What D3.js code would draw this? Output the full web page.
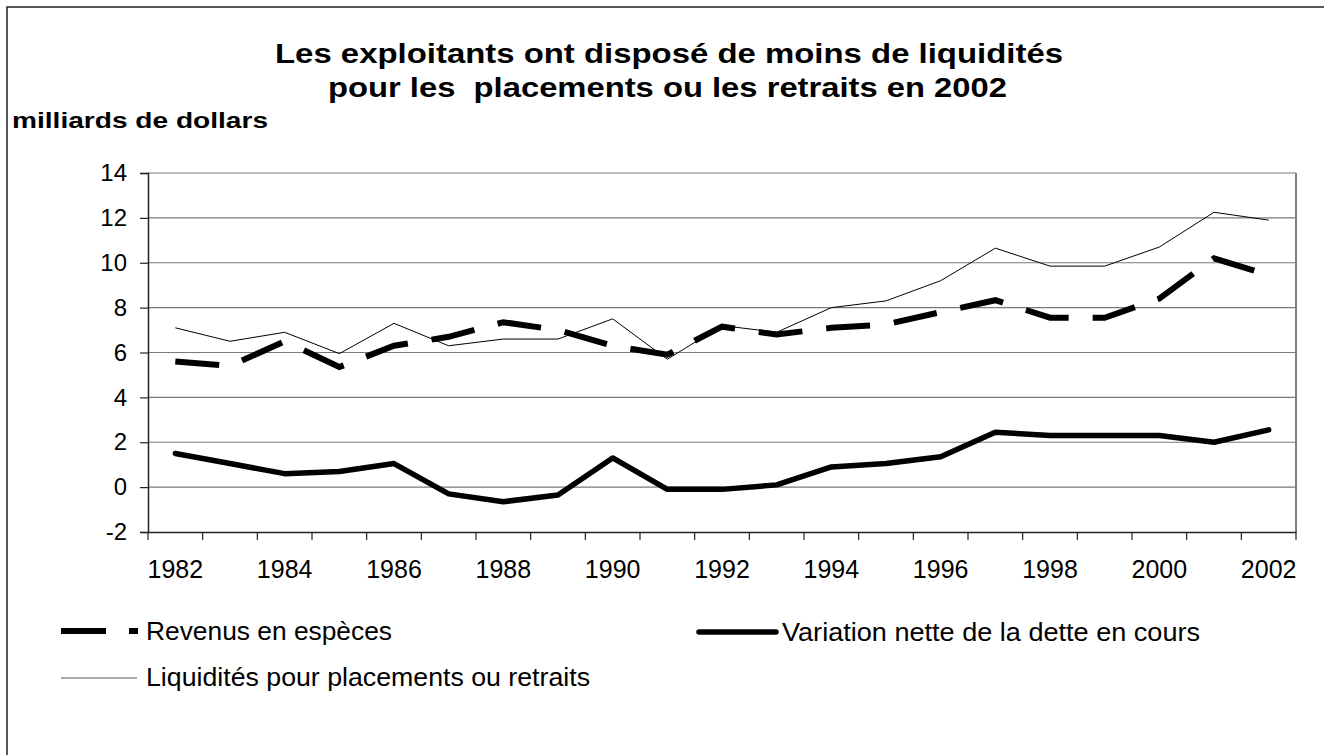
<!DOCTYPE html>
<html><head><meta charset="utf-8">
<script src="https://cdn.jsdelivr.net/npm/d3@7/dist/d3.min.js"></script>
<style>
body{margin:0;background:#fff}
svg{display:block;font-family:"Liberation Sans",Arial,Helvetica,sans-serif}
</style>
</head><body>
<svg id="chart" width="1324" height="755"></svg>
<script>
const years = [1982,1983,1984,1985,1986,1987,1988,1989,1990,1991,1992,1993,1994,1995,1996,1997,1998,1999,2000,2001,2002];
const revenus = [5.6,5.4,6.5,5.35,6.3,6.7,7.35,7.0,6.3,5.9,7.15,6.8,7.1,7.25,7.8,8.33,7.55,7.55,8.4,10.2,9.45];
const variation = [1.5,1.05,0.6,0.7,1.05,-0.3,-0.65,-0.35,1.3,-0.1,-0.1,0.1,0.9,1.05,1.35,2.45,2.3,2.3,2.3,2.0,2.55];
const liquidites = [7.1,6.5,6.9,5.95,7.3,6.3,6.6,6.6,7.5,5.7,7.2,6.9,8.0,8.3,9.2,10.65,9.85,9.85,10.7,12.25,11.9];
const yTicks = [-2,0,2,4,6,8,10,12,14];
const xTickLabels = [1982,1984,1986,1988,1990,1992,1994,1996,1998,2000,2002];
const titleLines = ["Les exploitants ont disposé de moins de liquidités","pour les  placements ou les retraits en 2002"];
const yTitle = "milliards de dollars";
const seriesNames = ["Revenus en espèces","Variation nette de la dette en cours","Liquidités pour placements ou retraits"];

const svg = d3.select("#chart");
const L = 148, R = 1296, T = 173, B = 532;

const x = d3.scaleBand().domain(years).range([L, R]).padding(0);
const y = d3.scaleLinear().domain([-2, 14]).range([B, T]);
const cx = d => x(d) + x.bandwidth() / 2;

// outer frame
svg.append("rect").attr("x", 7).attr("y", 7).attr("width", 1400).attr("height", 1000)
  .attr("fill", "none").attr("stroke", "#222").attr("stroke-width", 1.5);

// gridlines
svg.append("g").selectAll("line").data(yTicks.filter(v => v !== -2)).join("line")
  .attr("x1", L).attr("x2", R).attr("y1", d => y(d)).attr("y2", d => y(d))
  .attr("stroke", "#7a7a7a").attr("stroke-width", 1.2);

// right border of plot
svg.append("line").attr("x1", R).attr("x2", R).attr("y1", T).attr("y2", B)
  .attr("stroke", "#808080").attr("stroke-width", 2);

// y axis
const yAxis = svg.append("g").attr("transform", `translate(${L},0)`)
  .call(d3.axisLeft(y).tickValues(yTicks).tickSize(8).tickPadding(13).tickFormat(d => String(d)));
yAxis.select(".domain").attr("stroke", "#222").attr("stroke-width", 1.5);
yAxis.selectAll(".tick line").attr("stroke", "#222").attr("stroke-width", 1.2);
yAxis.selectAll("text").attr("font-size", 24).attr("fill", "#000").attr("font-family", "Liberation Sans, Arial, sans-serif");

// x axis labels
const xAxis = svg.append("g").attr("transform", `translate(0,${B})`)
  .call(d3.axisBottom(x).tickSize(0).tickPadding(28).tickFormat(d => xTickLabels.includes(d) ? String(d) : ""));
xAxis.select(".domain").attr("stroke", "#222").attr("stroke-width", 1.5);
xAxis.selectAll("text").attr("font-size", 25).attr("fill", "#000").attr("font-family", "Liberation Sans, Arial, sans-serif");
// x tick marks between categories
svg.append("g").selectAll("line").data(years.map(d => x(d)).concat([R])).join("line")
  .attr("x1", d => d).attr("x2", d => d).attr("y1", B).attr("y2", B + 8)
  .attr("stroke", "#222").attr("stroke-width", 1.2);

// lines
const line = arr => d3.line().x((d, i) => cx(years[i])).y(d => y(d))(arr);
svg.append("path").attr("d", line(liquidites)).attr("fill", "none")
  .attr("stroke", "#000").attr("stroke-width", 1);
svg.append("path").attr("d", line(revenus)).attr("fill", "none")
  .attr("stroke", "#000").attr("stroke-width", 6).attr("stroke-dasharray", "44,24");
svg.append("path").attr("d", line(variation)).attr("fill", "none")
  .attr("stroke", "#000").attr("stroke-width", 5.5).attr("stroke-linejoin", "round").attr("stroke-linecap", "round");

// titles
svg.append("text").attr("x", 275).attr("y", 63).attr("font-size", 27).attr("font-weight", "bold")
  .attr("textLength", 788).attr("lengthAdjust", "spacingAndGlyphs").text(titleLines[0]);
svg.append("text").attr("x", 328).attr("y", 97).attr("font-size", 27).attr("font-weight", "bold")
  .style("white-space", "pre").attr("textLength", 679).attr("lengthAdjust", "spacingAndGlyphs").text(titleLines[1]);
svg.append("text").attr("x", 12).attr("y", 128).attr("font-size", 22).attr("font-weight", "bold")
  .attr("textLength", 256).attr("lengthAdjust", "spacingAndGlyphs").text(yTitle);

// legend
const leg = svg.append("g").attr("font-size", 26);
leg.append("line").attr("x1", 61).attr("x2", 138).attr("y1", 631).attr("y2", 631)
  .attr("stroke", "#000").attr("stroke-width", 6).attr("stroke-dasharray", "45,23");
leg.append("text").attr("x", 146).attr("y", 640)
  .attr("textLength", 246).attr("lengthAdjust", "spacingAndGlyphs").text(seriesNames[0]);
leg.append("line").attr("x1", 699).attr("x2", 776).attr("y1", 632).attr("y2", 632)
  .attr("stroke", "#000").attr("stroke-width", 5.5).attr("stroke-linecap", "round");
leg.append("text").attr("x", 782).attr("y", 641)
  .attr("textLength", 418).attr("lengthAdjust", "spacingAndGlyphs").text(seriesNames[1]);
leg.append("line").attr("x1", 61).attr("x2", 137).attr("y1", 678).attr("y2", 678)
  .attr("stroke", "#555").attr("stroke-width", 1.2);
leg.append("text").attr("x", 146).attr("y", 686)
  .attr("textLength", 444).attr("lengthAdjust", "spacingAndGlyphs").text(seriesNames[2]);
</script>
</body></html>
